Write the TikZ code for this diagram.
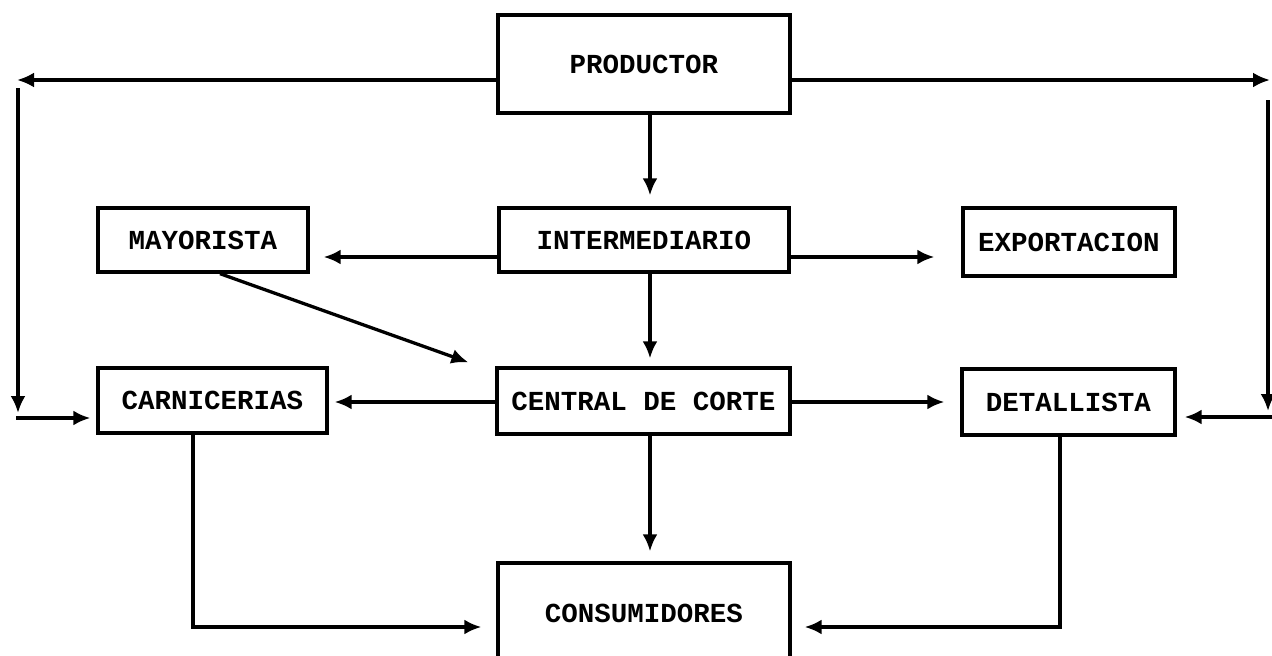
\documentclass[tikz,border=0pt]{standalone}
\usepackage{fontspec}
\setmonofont{Liberation Mono}
\usetikzlibrary{arrows.meta,calc}
\tikzset{
  box/.style={draw=black, line width=3.3pt, rectangle, inner sep=0pt,
              font=\ttfamily\bfseries\fontsize{27.5}{30}\selectfont, text=black},
  arr/.style={draw=black, line width=3.3pt, -{Latex[length=17pt,width=15pt]}},
  ln/.style={draw=black, line width=3.3pt}
}
\begin{document}
\begin{tikzpicture}[x=1pt,y=-1pt]
\useasboundingbox (0,0) rectangle (1272,656);
\clip (0,0) rectangle (1272,656);
\fill[white] (0,0) rectangle (1272,656);

% boxes
\node[box, minimum width=292pt, minimum height=98pt] (prod) at (644,64) {PRODUCTOR};
\node[box, minimum width=290pt, minimum height=64pt] (inter) at (644,240) {INTERMEDIARIO};
\node[box, minimum width=210pt, minimum height=64pt] (may) at (203,240) {MAYORISTA};
\node[box, minimum width=212pt, minimum height=68pt] (exp) at (1069,242) {EXPORTACION};
\node[box, minimum width=229pt, minimum height=65pt] (carn) at (212.5,400.5) {CARNICERIAS};
\node[box, minimum width=293pt, minimum height=66pt] (cent) at (643.5,401) {CENTRAL DE CORTE};
\node[box, minimum width=213pt, minimum height=66pt] (det) at (1068.5,402) {DETALLISTA};
\node[box, minimum width=292pt, minimum height=100pt] (cons) at (644,613) {CONSUMIDORES};

% helper coordinates
\coordinate (TL) at (17,80);
\coordinate (TR) at (1270,80);
\coordinate (LV1) at (18,88);
\coordinate (LV2) at (18,413);
\coordinate (LH) at (16,418);
\coordinate (RV1) at (1268,100);
\coordinate (RV2) at (1268,411);
\coordinate (RH) at (1272,417);
\coordinate (VX) at (650,0);
\coordinate (YM) at (0,257);
\coordinate (YC) at (0,402);
\coordinate (YB) at (0,627);
\coordinate (XL) at (193,0);
\coordinate (XR) at (1060,0);
\coordinate (XD) at (220,0);

% producer outward lines
\draw[arr] (prod.west |- TL) -- (TL);
\draw[arr] (prod.east |- TR) -- (TR);
\draw[arr] (LV1) -- (LV2);
\draw[arr, shorten >=6pt] (LH) -- (carn.west |- LH);
\draw[arr] (RV1) -- (RV2);
\draw[arr, shorten >=8pt] (RH) -- (det.east |- RH);

% vertical main chain
\draw[arr, shorten >=11pt] (prod.south -| VX) -- (inter.north -| VX);
\draw[arr, shorten >=8pt] (inter.south -| VX) -- (cent.north -| VX);
\draw[arr, shorten >=10pt] (cent.south -| VX) -- (cons.north -| VX);

% intermediario sideways
\draw[arr, shorten >=14pt] (inter.west |- YM) -- (may.east |- YM);
\draw[arr, shorten >=27pt] (inter.east |- YM) -- (exp.west |- YM);

% mayorista diagonal
\draw[arr] (may.south -| XD) -- ($(cent.north west)+(-27,-4)$);

% central sideways
\draw[arr, shorten >=6pt] (cent.west |- YC) -- (carn.east |- YC);
\draw[arr, shorten >=16pt] (cent.east |- YC) -- (det.west |- YC);

% to consumers
\draw[arr, shorten >=15pt] (carn.south -| XL) |- (cons.west |- YB);
\draw[arr, shorten >=13pt] (det.south -| XR) |- (cons.east |- YB);
\end{tikzpicture}
\end{document}
